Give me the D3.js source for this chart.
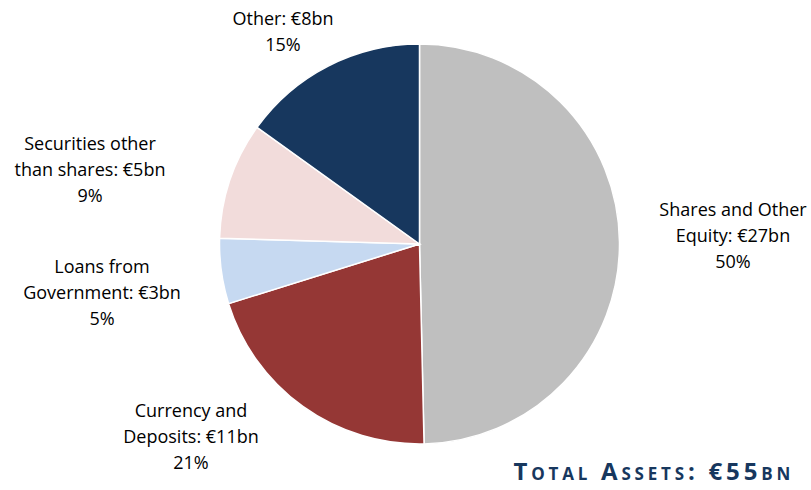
<!DOCTYPE html>
<html>
<head>
<meta charset="utf-8">
<script src="https://cdn.jsdelivr.net/npm/d3@7/dist/d3.min.js"></script>
<style>
  html, body { margin: 0; padding: 0; background: #ffffff; }
  svg { display: block; }
  .lbl { font-family: "Open Sans", Lato, sans-serif; font-size: 18px; fill: #000000; }
  .total { font-family: "Open Sans", Lato, sans-serif; font-weight: bold; font-size: 24px; fill: #17375E; font-variant: small-caps; letter-spacing: 3.8px; }
</style>
</head>
<body>
<script>
// ---- data ----
const categories = ["Shares and Other Equity", "Currency and Deposits", "Loans from Government", "Securities other than shares", "Other"];
const values = [27.3, 11.3, 2.9, 5.2, 8.3];            // € bn
const valueLabels = ["€27bn", "€11bn", "€3bn", "€5bn", "€8bn"];
const percentLabels = ["50%", "21%", "5%", "9%", "15%"];
const labelLines = [
  ["Shares and Other", "Equity: €27bn"],
  ["Currency and", "Deposits: €11bn"],
  ["Loans from", "Government: €3bn"],
  ["Securities other", "than shares: €5bn"],
  ["Other: €8bn"]
];
const colors = ["#BFBFBF", "#953735", "#C6D9F1", "#F2DCDB", "#17375E"];
const totalLabel = "Total Assets: €55bn";

// ---- layout ----
const W = 811, H = 490;
const cx = 419.5, cy = 244, R = 200;
// label anchor: x center and baseline of first line
const labelPos = [
  {x: 733, y: 216},
  {x: 191, y: 417},
  {x: 102, y: 273},
  {x: 90,  y: 150},
  {x: 283, y: 25}
];
const lineH = 26;

const svg = d3.select("body").append("svg").attr("width", W).attr("height", H);

const pie = d3.pie().sort(null).value(d => d)(values);
const arc = d3.arc().innerRadius(0).outerRadius(R);

const g = svg.append("g").attr("transform", `translate(${cx},${cy})`);
g.selectAll("path").data(pie).enter().append("path")
  .attr("d", arc)
  .attr("fill", (d, i) => colors[i])
  .attr("stroke", "#ffffff")
  .attr("stroke-width", 1.5);

categories.forEach((c, i) => {
  const lines = labelLines[i].concat([percentLabels[i]]);
  const t = svg.append("text").attr("class", "lbl").attr("text-anchor", "middle");
  lines.forEach((ln, j) => {
    t.append("tspan").attr("x", labelPos[i].x).attr("y", labelPos[i].y + j * lineH).text(ln);
  });
});

svg.append("text").attr("class", "total")
  .attr("text-anchor", "end")
  .attr("x", 794).attr("y", 480)
  .text(totalLabel);
</script>
</body>
</html>
